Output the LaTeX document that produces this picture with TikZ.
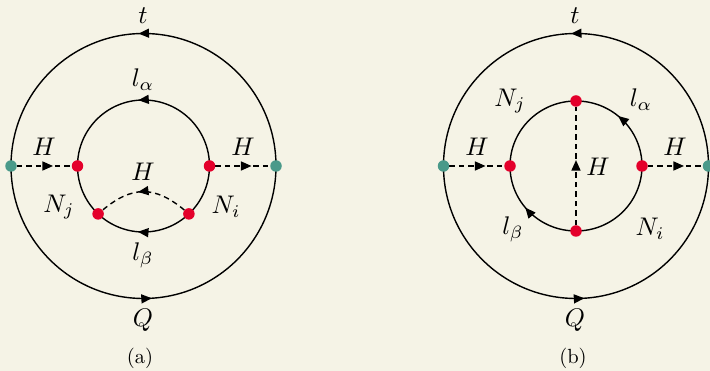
\documentclass[tikz,border=0pt]{standalone}
\usepackage{amsmath}
\usetikzlibrary{arrows.meta,decorations.markings,backgrounds}
\definecolor{paper}{HTML}{F5F3E6}
\definecolor{vertred}{HTML}{E4002B}
\definecolor{vertgreen}{HTML}{4A9A8A}
\tikzset{
  midarrow/.style={postaction={decorate},decoration={markings,
      mark=at position #1 with {\arrow{Stealth[length=10.5pt,width=9pt,inset=0pt]}}}},
  midarrow/.default=0.5,
  fermion/.style={line width=1.4pt},
  scalar/.style={line width=1.4pt,dash pattern=on 5.5pt off 4pt},
  inner/.style={circle,fill=vertred,inner sep=0pt,minimum size=11.5pt},
  outer/.style={circle,fill=vertgreen,inner sep=0pt,minimum size=11.5pt},
  lab/.style={inner sep=0pt,scale=2.55},
  sublab/.style={inner sep=0pt,scale=2.05},
}
\begin{document}
\begin{tikzpicture}[x=1pt,y=1pt]
  \useasboundingbox (0,0) rectangle (710,371);
  % diagram (a)
  \node[outer] (aL) at (11,205) {};
  \node[outer] (aR) at (276,205) {};
  \node[inner] (aA) at (77.5,205) {};
  \node[inner] (aB) at (209.5,205) {};
  \node[inner] (aC) at (98.1,157.1) {};
  \node[inner] (aD) at (188.9,157.1) {};
  \node[lab] (at) at (143,355) {$t$};
  \node[lab] (ala) at (143,291) {$l_\alpha$};
  \node[lab] (aH1) at (44,224) {$H$};
  \node[lab] (aH2) at (243,224) {$H$};
  \node[lab] (aH3) at (143,199) {$H$};
  \node[lab] (aNj) at (59,164) {$N_j$};
  \node[lab] (aNi) at (226,164) {$N_i$};
  \node[lab] (alb) at (143,116) {$l_\beta$};
  \node[lab] (aQ) at (143,51) {$Q$};
  \node[sublab] (acap) at (140,13) {(a)};
  % diagram (b)
  \node[outer] (bL) at (443.5,205) {};
  \node[outer] (bR) at (708.5,205) {};
  \node[inner] (bA) at (510,205) {};
  \node[inner] (bB) at (642,205) {};
  \node[inner] (bC) at (576,270) {};
  \node[inner] (bD) at (576,140) {};
  \node[lab] (bt) at (575,355) {$t$};
  \node[lab] (bNj) at (510,270) {$N_j$};
  \node[lab] (bla) at (641,271) {$l_\alpha$};
  \node[lab] (bH1) at (477,224) {$H$};
  \node[lab] (bH2) at (675,224) {$H$};
  \node[lab] (bH3) at (598,204) {$H$};
  \node[lab] (blb) at (513,142) {$l_\beta$};
  \node[lab] (bNi) at (650,142) {$N_i$};
  \node[lab] (bQ) at (575,51) {$Q$};
  \node[sublab] (bcap) at (573,13) {(b)};
  \begin{scope}[on background layer]
    \fill[paper] (0,0) rectangle (710,371);
    % lines of (a)
    \draw[fermion,midarrow=0.512] (aR.center) arc[start angle=0,end angle=180,radius=132.5];
    \draw[fermion,midarrow=0.52] (aL.center) arc[start angle=180,end angle=360,radius=132.5];
    \draw[fermion,midarrow=0.525] (aB.center) arc[start angle=0,end angle=180,radius=66];
    \draw[fermion] (aA.center) arc[start angle=180,end angle=226.5,radius=66];
    \draw[fermion] (aD.center) arc[start angle=-46.5,end angle=0,radius=66];
    \draw[fermion,midarrow=0.555] (aD.center) arc[start angle=-46.5,end angle=-133.5,radius=66];
    \draw[scalar,midarrow=0.66] (aL) -- (aA);
    \draw[scalar,midarrow=0.66] (aB) -- (aR);
    \draw[scalar,midarrow=0.56] (aD) to[bend right=40,looseness=1.2] (aC);
    % lines of (b)
    \draw[fermion,midarrow=0.512] (bR.center) arc[start angle=0,end angle=180,radius=132.5];
    \draw[fermion,midarrow=0.52] (bL.center) arc[start angle=180,end angle=360,radius=132.5];
    \draw[fermion,midarrow=0.556] (bB.center) arc[start angle=0,end angle=90,x radius=66,y radius=65];
    \draw[fermion] (bC.center) arc[start angle=90,end angle=180,x radius=66,y radius=65];
    \draw[fermion,midarrow=0.56] (bD.center) arc[start angle=270,end angle=180,x radius=66,y radius=65];
    \draw[fermion] (bB.center) arc[start angle=0,end angle=-90,x radius=66,y radius=65];
    \draw[scalar,midarrow=0.66] (bL) -- (bA);
    \draw[scalar,midarrow=0.66] (bB) -- (bR);
    \draw[scalar,midarrow=0.55] (bD) -- (bC);
  \end{scope}
\end{tikzpicture}
\end{document}
